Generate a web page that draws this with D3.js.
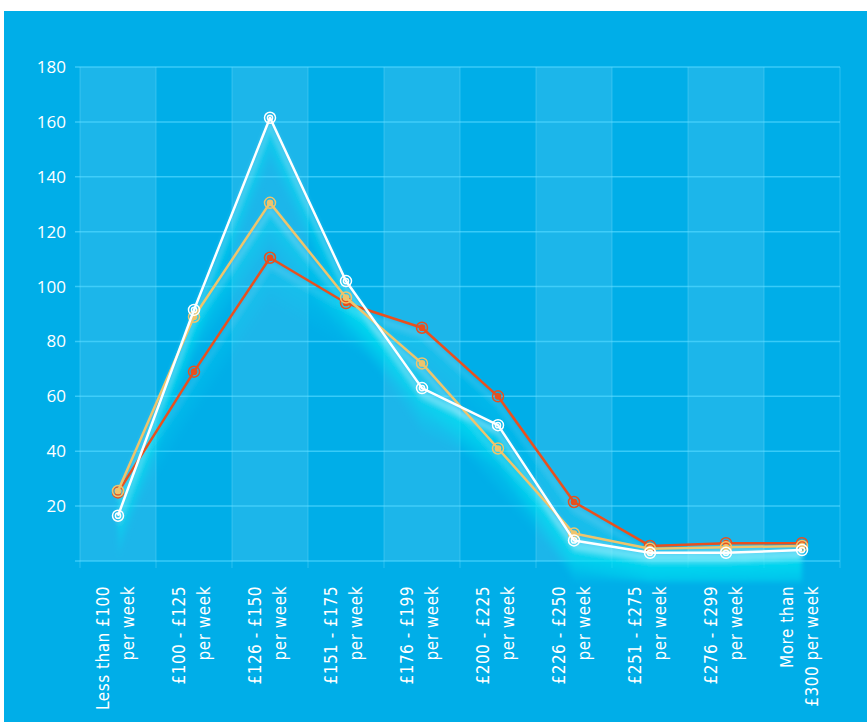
<!DOCTYPE html>
<html>
<head lang="en">
    <meta charset="UTF-8">
    <title>weekly income</title>
    <style>
        body { margin: 0; background: #fff; }
        .ylab { fill: #fff; font-family: "Open Sans", sans-serif; font-size: 17px; }
        .xlab { fill: #fff; font-family: "Liberation Sans Narrow", "DejaVu Sans Condensed", sans-serif; font-size: 17px; letter-spacing: 0.5px; }
    </style>
</head>
<body>
<svg width="867" height="722"></svg>

<script src="https://cdn.jsdelivr.net/npm/d3@7/dist/d3.min.js"></script>
<script>
    var categories = [
        ["Less than £100", "per week"],
        ["£100 - £125", "per week"],
        ["£126 - £150", "per week"],
        ["£151 - £175", "per week"],
        ["£176 - £199", "per week"],
        ["£200 - £225", "per week"],
        ["£226 - £250", "per week"],
        ["£251 - £275", "per week"],
        ["£276 - £299", "per week"],
        ["More than", "£300 per week"]
    ];
    var redValues    = [25, 69, 110.5, 94, 85, 60, 21.5, 5.5, 6.5, 6.5];
    var yellowValues = [25.5, 89, 130.5, 96, 72, 41, 10, 4.5, 5, 5.5];
    var whiteValues  = [16.5, 91.5, 161.5, 102, 63, 49.5, 7.5, 3, 3, 4];
    var yTicks = [20, 40, 60, 80, 100, 120, 140, 160, 180];
    var gridTicks = [0, 20, 40, 60, 80, 100, 120, 140, 160, 180];

    var series = [
        {name: "red", values: redValues, color: "#e8501e", glow: 0.25},
        {name: "yellow", values: yellowValues, color: "#efc46c", glow: 0.45},
        {name: "white", values: whiteValues, color: "#ffffff", glow: 0.65}
    ];

    var svg = d3.select("svg");
    var plotLeft = 80, plotRight = 840, plotTop = 67, plotBottom = 561;

    svg.append("rect").attr("x", 4).attr("y", 11).attr("width", 863).attr("height", 711)
        .attr("fill", "#00aee8");

    var x = d3.scaleBand().domain(d3.range(categories.length)).range([plotLeft, plotRight]);
    var y = d3.scaleLinear().domain([0, 180]).range([plotBottom, plotTop]);
    var cx = function (i) { return x(i) + x.bandwidth() / 2; };

    // alternating column bands
    svg.append("g").selectAll("rect")
        .data(d3.range(categories.length).filter(function (i) { return i % 2 === 0; }))
        .enter().append("rect")
        .attr("x", function (i) { return x(i); })
        .attr("y", y(180))
        .attr("width", x.bandwidth())
        .attr("height", y(0) - y(180))
        .attr("fill", "rgba(255,255,255,0.11)");

    // grid
    svg.append("g").selectAll("line")
        .data(gridTicks).enter().append("line")
        .attr("x1", plotLeft - 5).attr("x2", plotRight)
        .attr("y1", function (d) { return y(d); }).attr("y2", function (d) { return y(d); })
        .attr("stroke", "rgba(80,215,255,0.7)").attr("stroke-width", 1.5);
    svg.append("g").selectAll("line")
        .data(d3.range(categories.length + 1)).enter().append("line")
        .attr("x1", function (i) { return plotLeft + i * x.bandwidth(); })
        .attr("x2", function (i) { return plotLeft + i * x.bandwidth(); })
        .attr("y1", y(180)).attr("y2", y(0) + 7)
        .attr("stroke", "rgba(120,225,255,0.35)").attr("stroke-width", 1);

    // glow under lines
    var defs = svg.append("defs");
    defs.append("filter").attr("id", "blur").attr("x", "-10%").attr("y", "-10%")
        .attr("width", "120%").attr("height", "120%")
        .append("feGaussianBlur").attr("stdDeviation", 2.5);
    var glow = svg.append("g").attr("filter", "url(#blur)");
    var steps = 14, stepH = 3;
    series.forEach(function (s) {
        for (var k = 0; k < steps; k++) {
            var band = d3.area()
                .x(function (d, i) { return cx(i); })
                .y0(function (d) { return Math.min(y(d) + 3 + (k + 1) * stepH, 582); })
                .y1(function (d) { return Math.min(y(d) + 3 + k * stepH, 582); });
            glow.append("path")
                .attr("d", band(s.values))
                .attr("fill", k < 2 ? "#a8f6ff" : "#00e6f2")
                .attr("opacity", s.glow * (1 - k / steps));
        }
    });

    // y labels
    svg.append("g").selectAll("text")
        .data(yTicks).enter().append("text")
        .attr("class", "ylab")
        .attr("x", 66).attr("y", function (d) { return y(d) + 6; })
        .attr("text-anchor", "end")
        .text(function (d) { return d; });

    // x labels
    var xl = svg.append("g").selectAll("text")
        .data(categories).enter().append("text")
        .attr("class", "xlab")
        .attr("text-anchor", "end")
        .attr("transform", function (d, i) {
            return "translate(" + (cx(i) - 9) + "," + 586 + ") rotate(-90)";
        });
    xl.append("tspan").attr("x", 0).attr("dy", 0).text(function (d) { return d[0]; });
    xl.append("tspan").attr("x", 0).attr("dy", 25).text(function (d) { return d[1]; });

    // lines + markers
    var line = d3.line().x(function (d, i) { return cx(i); }).y(function (d) { return y(d); });
    series.forEach(function (s) {
        svg.append("path")
            .attr("d", line(s.values))
            .attr("fill", "none")
            .attr("stroke", s.color)
            .attr("stroke-width", 2.5)
            .attr("stroke-linejoin", "round");
        var m = svg.append("g").selectAll("g")
            .data(s.values).enter().append("g")
            .attr("transform", function (d, i) { return "translate(" + cx(i) + "," + y(d) + ")"; });
        m.append("circle").attr("r", 5.5).attr("fill", "none")
            .attr("stroke", s.color).attr("stroke-width", 1.5);
        m.append("circle").attr("r", 2.6).attr("fill", s.name === "white" ? "none" : s.color)
            .attr("stroke", s.color).attr("stroke-width", 1.5);
    });
</script>
</body>
</html>
